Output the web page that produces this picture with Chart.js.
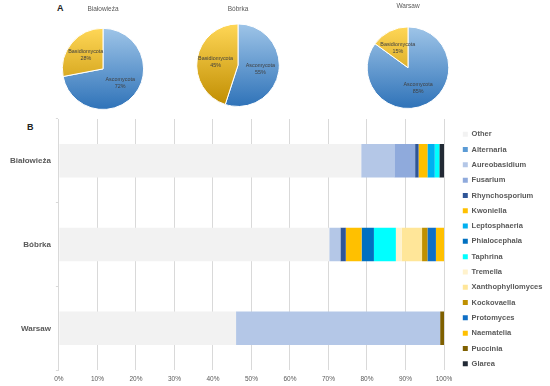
<!DOCTYPE html>
<html>
<head>
<meta charset="utf-8">
<script src="https://cdn.jsdelivr.net/npm/chart.js@4/dist/chart.umd.min.js"></script>
<style>
  body { margin: 0; background: #fff; }
  #wrap { position: relative; width: 550px; height: 386px; overflow: hidden; font-family: "Liberation Sans", Arial, sans-serif; }
  canvas { position: absolute; }
  .tag { position: absolute; font-weight: bold; font-size: 9px; color: #222; }
</style>
</head>
<body>
<div id="wrap">
  <div class="tag" style="left:57px;top:3px;">A</div>
  <div class="tag" style="left:27px;top:122px;">B</div>
  <canvas id="pie0" width="120" height="110" style="left:43px;top:0px;"></canvas>
  <canvas id="pie1" width="120" height="107" style="left:178px;top:0px;"></canvas>
  <canvas id="pie2" width="120" height="109" style="left:348px;top:0px;"></canvas>
  <canvas id="bars" width="550" height="271" style="left:0px;top:115px;"></canvas>
</div>
<script>
// Panel A: phylum share per site
const sites = ["Białowieża", "Bóbrka", "Warsaw"];
const phyla = ["Ascomycota", "Basidiomycota"];
const ascomycota = [72, 55, 85];
const basidiomycota = [28, 45, 15];

// Panel B: genus share per site (%)
const genera = ["Other", "Alternaria", "Aureobasidium", "Fusarium", "Rhynchosporium", "Kwoniella",
  "Leptosphaeria", "Phialocephala", "Taphrina", "Tremella", "Xanthophyllomyces", "Kockovaella",
  "Protomyces", "Naematelia", "Puccinia", "Glarea"];
const other = [78.5, 70.2, 46.0];
const alternaria = [0, 0, 0];
const aureobasidium = [8.6, 2.9, 53.0];
const fusarium = [5.4, 0, 0];
const rhynchosporium = [0.9, 1.4, 0];
const kwoniella = [2.3, 4.1, 0];
const leptosphaeria = [1.9, 0, 0];
const phialocephala = [0, 3.2, 0];
const taphrina = [1.2, 5.7, 0];
const tremella = [0, 1.5, 0];
const xanthophyllomyces = [0, 5.3, 0];
const kockovaella = [0, 1.4, 0];
const protomyces = [0, 2.2, 0];
const naematelia = [0, 2.1, 0];
const puccinia = [0, 0, 1.0];
const glarea = [1.2, 0, 0];
const xTicks = [0, 10, 20, 30, 40, 50, 60, 70, 80, 90, 100];

const genusValues = [other, alternaria, aureobasidium, fusarium, rhynchosporium, kwoniella,
  leptosphaeria, phialocephala, taphrina, tremella, xanthophyllomyces, kockovaella,
  protomyces, naematelia, puccinia, glarea];
const genusColors = ["#f2f2f2", "#5b9bd5", "#b4c7e7", "#8faadc", "#2f5597", "#ffc000",
  "#00b0f0", "#0070c0", "#00ffff", "#fff2cc", "#ffe699", "#bf9000",
  "#0f6fc6", "#ffc000", "#7f6000", "#222a35"];

const grey = "#595959";
const sliceStops = [["#9fc5e8", "#2e72b8"], ["#ffd757", "#bf8c00"]];

// vertical gradient like the Excel fills
function sliceFill(ctx) {
  const stops = sliceStops[ctx.dataIndex] || sliceStops[0];
  const area = ctx.chart.chartArea;
  if (!area) return stops[1];
  const g = ctx.chart.ctx.createLinearGradient(0, area.top, 0, area.bottom);
  g.addColorStop(0, stops[0]);
  g.addColorStop(1, stops[1]);
  return g;
}

// writes "name / value%" inside each slice
const sliceLabels = {
  id: "sliceLabels",
  afterDatasetsDraw(chart) {
    const ctx = chart.ctx;
    const meta = chart.getDatasetMeta(0);
    ctx.save();
    ctx.fillStyle = "#404040";
    ctx.font = "5.4px 'Liberation Sans', Arial, sans-serif";
    ctx.textAlign = "center";
    ctx.textBaseline = "middle";
    meta.data.forEach((arc, i) => {
      const p = arc.getProps(["x", "y", "startAngle", "endAngle", "outerRadius"], true);
      const mid = (p.startAngle + p.endAngle) / 2;
      const r = p.outerRadius * 0.55;
      const x = p.x + Math.cos(mid) * r;
      const y = p.y + Math.sin(mid) * r;
      ctx.fillText(chart.data.labels[i], x, y - 3.5);
      ctx.fillText(chart.data.datasets[0].data[i] + "%", x, y + 3.5);
    });
    ctx.restore();
  }
};

const titlePads = [{ top: 5, bottom: 15 }, { top: 5, bottom: 10.6 }, { top: 2, bottom: 16.6 }];

sites.forEach((site, i) => {
  new Chart(document.getElementById("pie" + i), {
    type: "pie",
    data: {
      labels: phyla,
      datasets: [{
        data: [ascomycota[i], basidiomycota[i]],
        backgroundColor: sliceFill,
        borderColor: "#ffffff",
        borderWidth: 1,
      }],
    },
    options: {
      responsive: false,
      animation: false,
      plugins: {
        legend: { display: false },
        tooltip: { enabled: false },
        title: {
          display: true,
          text: site,
          color: grey,
          font: { size: 6.5, family: "'Liberation Sans', Arial, sans-serif", weight: "normal" },
          padding: titlePads[i],
        },
      },
    },
    plugins: [sliceLabels],
  });
});

// push the legend a bit away from the plot
const legendShift = {
  id: "legendShift",
  afterLayout(chart) {
    chart.legend.left += 11;
    chart.legend.right += 11;
  }
};

new Chart(document.getElementById("bars"), {
  type: "bar",
  data: {
    labels: sites,
    datasets: genera.map((g, k) => ({
      label: g,
      data: genusValues[k],
      backgroundColor: genusColors[k],
      borderWidth: 0,
      barPercentage: 0.4,
      categoryPercentage: 1,
    })),
  },
  options: {
    indexAxis: "y",
    responsive: false,
    animation: false,
    layout: { padding: { top: 4, bottom: -2, left: 5, right: 0 } },
    scales: {
      x: {
        stacked: true,
        min: 0,
        max: 100,
        afterBuildTicks: (axis) => { axis.ticks = xTicks.map((v) => ({ value: v })); },
        // reserve the right-hand strip for the legend
        afterFit: (axis) => { axis.paddingRight = 106; },
        ticks: {
          callback: (v) => v + "%",
          color: grey,
          font: { size: 6.5, family: "'Liberation Sans', Arial, sans-serif" },
          padding: 5,
          maxRotation: 0,
        },
        grid: { color: "#d9d9d9", drawTicks: false },
        border: { display: false },
      },
      y: {
        stacked: true,
        afterFit: (axis) => { axis.paddingTop = 0; axis.paddingBottom = 0; },
        ticks: {
          color: grey,
          font: { size: 8, weight: "bold", family: "'Liberation Sans', Arial, sans-serif" },
          padding: 5,
        },
        grid: { color: "#d9d9d9", drawOnChartArea: false, tickLength: 3 },
        border: { color: "#d9d9d9" },
      },
    },
    plugins: {
      tooltip: { enabled: false },
      legend: {
        position: "right",
        align: "start",
        title: { display: true, text: "", font: { size: 1 }, padding: { top: 0, bottom: 2.5 } },
        labels: {
          boxWidth: 5,
          boxHeight: 5,
          padding: 7.8,
          color: grey,
          font: { size: 7.5, weight: "bold", family: "'Liberation Sans', Arial, sans-serif" },
        },
      },
    },
  },
  plugins: [legendShift],
});
</script>
</body>
</html>
